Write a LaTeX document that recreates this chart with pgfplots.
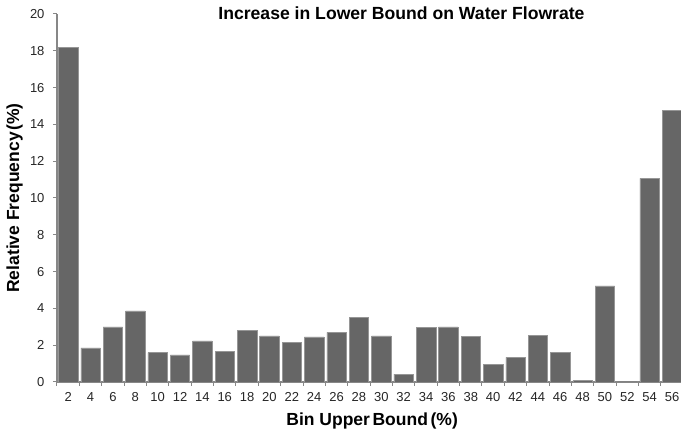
\documentclass[border=0pt]{standalone}
\usepackage{pgfplots}
\pgfplotsset{compat=1.18}
\usepackage{fontspec}
\setmainfont{Liberation Sans}
\definecolor{barfill}{RGB}{102,102,102}
\definecolor{baredge}{RGB}{150,150,150}
\definecolor{axgray}{RGB}{135,135,135}
\begin{document}
\begin{tikzpicture}
\begin{axis}[
  at={(0,0)}, anchor=south west,
  scale only axis,
  width=624pt, height=368pt,
  xmin=-0.5, xmax=27.4,
  ymin=0, ymax=20,
  ytick={0,2,...,20},
  xtick={0,...,27},
  xticklabels={2,4,6,8,10,12,14,16,18,20,22,24,26,28,30,32,34,36,38,40,42,44,46,48,50,52,54,56},
  minor xtick={-0.5,0.5,...,27.5},
  major x tick style={draw=none},
  tick align=outside,
  major tick length=4pt,
  minor tick length=4pt,
  tick style={axgray, line width=1pt},
  axis x line*=bottom,
  axis y line*=left,
  axis line style={axgray, line width=1.2pt, -},
  /pgf/number format/assume math mode=true,
  ticklabel style={font=\fontsize{13}{15}\selectfont, text=black!85},
  xticklabel style={yshift=-3pt},
  yticklabel style={xshift=-5pt},
  title={\bfseries Increase in Lower Bound on Water Flowrate},
  title style={font=\fontsize{17.6}{19}\selectfont, at={(axis description cs:0.552,0.969)}, anchor=base},
  xlabel={\bfseries Bin Upper\hspace{0.15em}Bound\hspace{0.15em}(\%)},
  xlabel style={font=\fontsize{17.5}{19}\selectfont, at={(axis description cs:0.505,-0.106)}, anchor=center},
  ylabel={\bfseries Relative Frequency\hspace{0.1em}(\%)},
  ylabel style={font=\fontsize{17.5}{19}\selectfont, at={(axis description cs:-0.068,0.5)}, anchor=center, rotate=0},
  ymajorgrids=false,
]
\addplot[ybar, bar width=0.87, fill=barfill, draw=baredge, line width=0.5pt] coordinates {
(0,18.2) (1,1.86) (2,3.0) (3,3.87) (4,1.6) (5,1.48) (6,2.23) (7,1.65)
(8,2.81) (9,2.5) (10,2.16) (11,2.45) (12,2.7) (13,3.52) (14,2.5) (15,0.43)
(16,2.95) (17,3.0) (18,2.46) (19,0.94) (20,1.34) (21,2.55) (22,1.63) (23,0.08)
(24,5.23) (25,0) (26,11.07) (27,14.77)
};
\end{axis}
\pgfresetboundingbox
\path[use as bounding box] (-57pt,-51pt) rectangle (624pt,382pt);
\end{tikzpicture}
\end{document}
